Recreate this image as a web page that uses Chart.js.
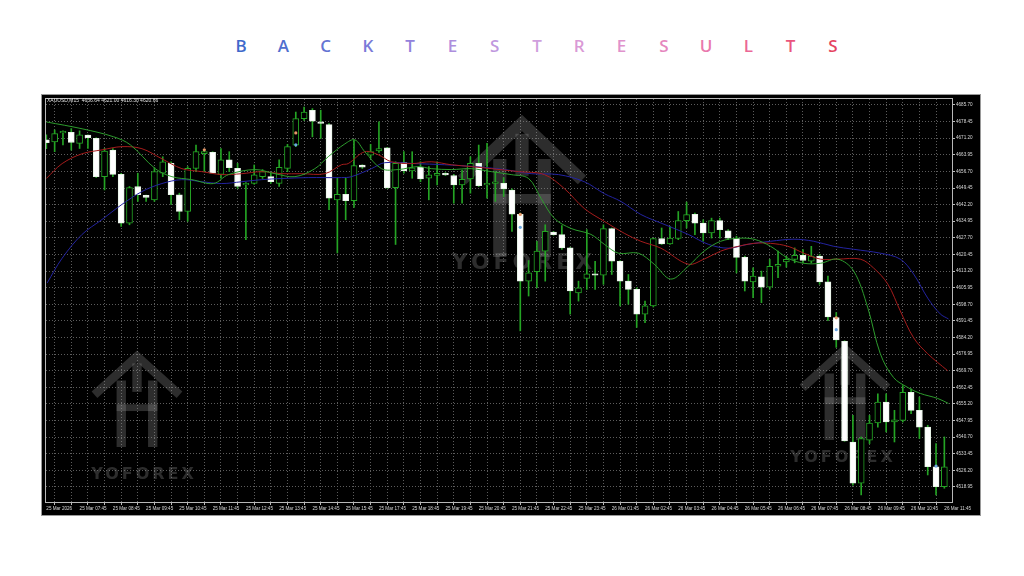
<!DOCTYPE html>
<html>
<head>
<meta charset="utf-8">
<script src="https://cdn.jsdelivr.net/npm/chart.js@4.4.1/dist/chart.umd.min.js"></script>
<style>
  html, body { margin:0; padding:0; background:#fff; width:1024px; height:576px; overflow:hidden; }
  #title { position:absolute; left:234px; top:36px; width:606px; height:20px; line-height:20px;
           display:flex; justify-content:space-between; font-family:"Open Sans", sans-serif; font-size:17px; font-weight:600; }
  #title span { width:14px; text-align:center; }
  #frame { position:absolute; left:42px; top:95px; width:938px; height:420px; background:#000; outline:1px solid #9a9a9a; }
  #hdr { position:absolute; left:47px; top:97px; color:#e0e0e0; font:5px "Liberation Sans Narrow", "Liberation Sans", sans-serif; white-space:pre; }
</style>
</head>
<body>
<div id="title"></div>
<div id="frame"><canvas id="chart"></canvas></div>
<div id="hdr">XAUUSD,M15  4636.64 4621.00 4616.30 4620.66</div>
<script>
// 15 minute bars, index 0 = 25 Mar 06:45
var opens = [4670.5,4669.6,4673.5,4673.7,4668.9,4672.5,4671.1,4654.4,4666.0,4655.4,
  4634.1,4650.1,4646.2,4644.3,4655.9,4660.2,4646.5,4639.2,4658.0,4664.4,
  4665.0,4655.4,4661.7,4658.0,4650.8,4651.5,4654.4,4654.4,4651.5,4658.0,
  4668.2,4679.7,4683.4,4678.3,4677.1,4644.3,4646.7,4643.9,4659.5,4663.8,
  4665.6,4667.0,4649.6,4660.5,4656.9,4658.5,4653.7,4654.9,4655.9,4654.9,
  4650.8,4653.4,4660.2,4650.8,4651.5,4651.5,4648.6,4638.0,4608.8,4612.9,
  4621.9,4630.2,4629.1,4623.3,4603.7,4610.0,4612.0,4611.4,4631.7,4617.5,
  4608.8,4605.2,4594.4,4598.0,4627.4,4625.0,4627.4,4635.2,4638.0,4634.1,
  4629.8,4635.2,4630.8,4627.6,4619.2,4608.5,4610.7,4606.2,4615.3,4617.2,
  4618.3,4620.1,4617.5,4619.7,4608.5,4592.9,4582.5,4538.6,4520.6,4539.4,
  4546.9,4556.0,4547.3,4548.0,4560.3,4552.4,4545.1,4527.8,4519.1];
var highs = [4672.7,4674.8,4674.4,4675.4,4674.4,4672.7,4671.4,4666.7,4666.7,4655.9,
  4650.1,4655.9,4646.4,4658.3,4663.1,4660.9,4647.2,4658.8,4668.2,4666.1,
  4665.3,4666.7,4665.3,4660.2,4651.8,4659.5,4657.5,4655.9,4661.7,4668.5,
  4682.6,4684.8,4684.1,4683.4,4677.6,4653.7,4653.7,4670.4,4659.6,4668.5,
  4678.3,4667.2,4660.9,4665.3,4665.3,4660.9,4658.8,4660.9,4656.2,4655.4,
  4657.3,4663.1,4668.2,4668.9,4656.6,4654.0,4649.1,4638.5,4617.8,4626.2,
  4633.4,4630.5,4633.1,4623.6,4608.8,4631.3,4617.5,4633.4,4632.0,4617.8,
  4611.7,4605.9,4600.1,4627.6,4632.0,4632.7,4639.2,4643.3,4638.5,4635.6,
  4636.3,4636.3,4631.3,4628.4,4619.7,4614.6,4613.2,4618.3,4621.9,4619.7,
  4623.3,4622.6,4624.0,4620.4,4611.0,4595.1,4582.8,4550.2,4540.8,4550.2,
  4559.6,4559.6,4552.4,4563.2,4561.8,4558.2,4545.9,4537.9,4540.8];
var lows = [4666.6,4665.3,4668.3,4666.0,4666.7,4666.7,4654.0,4648.6,4654.4,4632.7,
  4633.4,4643.6,4643.6,4643.6,4654.4,4642.3,4635.6,4634.9,4656.6,4656.6,
  4655.7,4653.7,4656.6,4649.3,4626.9,4651.1,4653.6,4651.5,4650.1,4656.6,
  4667.5,4679.0,4671.8,4671.1,4640.0,4621.1,4635.6,4641.0,4658.0,4662.4,
  4665.0,4649.3,4624.8,4655.9,4653.7,4652.2,4644.3,4650.8,4654.9,4642.8,
  4642.8,4647.2,4650.1,4645.0,4643.6,4645.7,4630.5,4587.1,4602.3,4605.9,
  4608.8,4628.8,4622.6,4594.4,4600.1,4605.2,4605.2,4607.4,4611.7,4598.0,
  4598.7,4588.6,4590.7,4597.5,4624.8,4624.8,4626.9,4632.0,4629.1,4626.2,
  4627.6,4627.6,4626.9,4612.4,4604.5,4601.6,4599.4,4605.2,4610.3,4614.9,
  4616.8,4616.8,4616.8,4607.4,4591.5,4579.9,4538.9,4519.8,4515.5,4537.9,
  4545.1,4543.0,4538.6,4547.3,4551.0,4540.1,4524.2,4515.5,4518.4];
var closes = [4669.2,4673.2,4674.2,4669.3,4672.7,4671.4,4654.4,4665.6,4655.4,4634.1,
  4649.6,4646.5,4645.3,4656.6,4660.9,4646.5,4639.2,4658.0,4665.3,4665.3,
  4655.9,4661.7,4658.3,4650.1,4651.5,4655.2,4656.6,4652.2,4658.5,4667.5,
  4679.7,4682.6,4678.6,4677.6,4645.0,4646.7,4643.9,4659.2,4658.5,4665.3,
  4666.7,4649.6,4660.2,4656.9,4658.3,4653.4,4655.2,4655.9,4655.2,4650.8,
  4653.2,4660.2,4650.5,4651.5,4652.2,4649.1,4638.0,4608.8,4612.4,4621.9,
  4630.5,4629.1,4623.3,4604.5,4605.9,4612.0,4611.4,4631.7,4617.5,4608.8,
  4605.2,4594.4,4598.0,4627.4,4625.0,4627.6,4635.2,4637.8,4634.1,4629.8,
  4635.2,4631.3,4627.6,4619.2,4608.8,4611.0,4606.2,4615.3,4616.1,4618.3,
  4620.1,4617.8,4619.7,4608.5,4593.2,4583.1,4539.1,4520.6,4540.1,4546.9,
  4556.0,4547.3,4548.3,4560.3,4552.4,4545.1,4527.8,4519.1,4527.8];

// moving averages (bar index, price)
var fastMaBar = [0,4.3,8.1,10.1,13.1,15.1,17.5,20.1,21.9,25.1,27.5,29.9,32.3,33.9,35.9,37.1,38.3,40.3,42.3,44.7,
  46.3,48.7,51.1,53.5,55.9,58,59.5,61.1,63.1,65.5,67.1,68.8,71.2,73.1,75.1,77.2,79.1,81.1,83.2,85.1,
  87.1,89.2,91.1,93.1,95.2,97.1,98.8,100.3,101.9,103.6,105.1,107.2,108.5];
var fastMa = [4678.3,4675.3,4671.8,4668.3,4657.9,4654.4,4653.1,4651.4,4655.3,4657.5,4655.7,4654.4,4657.9,4663.1,4668.7,4670.5,4665.3,4657.9,4657.5,4658.8,
  4657.9,4657.5,4657.9,4656.6,4655.3,4653.6,4644.9,4636.2,4631.8,4629.2,4624.9,4621.0,4621.0,4616.2,4609.7,4615.3,4621.9,4626.2,4627.5,4627.1,
  4624.0,4618.8,4616.6,4616.6,4618.4,4613.2,4597.1,4577.1,4566.7,4562.4,4559.8,4557.6,4555.4];
var midMaBar = [0,1.9,4.3,6.7,9.1,11.5,13.9,16.3,18.7,21.1,23.5,25.9,28.3,30.7,33.5,35.5,36.3,38.3,39.9,41.5,
  43.9,46.3,48.7,51.1,53.5,56.8,59.9,62.3,64.7,67.1,69.5,71.5,73.9,77.2,79.1,81.1,83.2,85.1,87.1,89.2,
  91.1,93.1,95.2,97.9,99.5,101.2,102.7,104.3,106,108.4];
var midMa = [4653.6,4660.1,4664.4,4666.1,4667.5,4666.6,4662.2,4657.9,4656.6,4655.3,4655.7,4656.6,4655.7,4655.7,4655.7,4659.6,4660.1,4665.3,4664.0,4660.9,
  4660.1,4660.9,4659.6,4658.8,4657.9,4656.6,4655.3,4649.2,4640.5,4634.9,4629.7,4626.2,4623.2,4616.2,4618.4,4621.9,4624.0,4625.3,4625.3,4624.0,
  4621.0,4618.4,4618.4,4618.4,4614.5,4607.5,4595.8,4584.1,4577.1,4569.7];
var slowMaBar = [0.1,1.9,4.3,6.7,9.1,11.5,13.9,16.3,18.7,21.1,23.5,25.9,28.3,31.5,35.5,36.7,39.1,40.7,44.3,47.9,
  51.5,55.1,58.3,61.6,64.7,67.1,69.1,71.5,74.3,77.2,79.6,82,84.4,87.1,89.9,92.3,94.7,97.1,100.3,102.7,
  104.3,106,107.5,108.5];
var slowMa = [4608.0,4618.8,4629.2,4635.7,4642.3,4647.9,4651.4,4653.1,4652.2,4651.4,4652.2,4653.1,4653.6,4654.0,4654.0,4654.4,4657.9,4660.5,4660.1,4659.6,
  4658.8,4657.5,4655.7,4655.3,4652.2,4647.0,4643.6,4637.9,4633.6,4629.2,4624.9,4623.2,4624.9,4626.2,4627.1,4626.2,4624.0,4622.7,4621.0,4618.4,
  4611.9,4601.4,4594.5,4592.3];

// trade arrows
var entryBar = [19, 30, 57, 95];
var entryPrice = [4666.1, 4673.5, 4637.9, 4592.8];
var exitBar = [30, 57, 95, 107];
var exitPrice = [4668.3, 4632.3, 4587.6, 4528.1];

var timeLabels = ["25 Mar 2026","25 Mar 07:45","25 Mar 08:45","25 Mar 09:45","25 Mar 10:45","25 Mar 11:45",
  "25 Mar 12:45","25 Mar 13:45","25 Mar 14:45","25 Mar 15:45","25 Mar 17:45","25 Mar 18:45","25 Mar 19:45",
  "25 Mar 20:45","25 Mar 21:45","25 Mar 22:45","25 Mar 23:45","26 Mar 01:45","26 Mar 02:45","26 Mar 03:45",
  "26 Mar 04:45","26 Mar 05:45","26 Mar 06:45","26 Mar 07:45","26 Mar 08:45","26 Mar 09:45","26 Mar 10:45","26 Mar 11:45"];
var priceTicks = [4685.70,4678.45,4671.20,4663.95,4656.70,4649.45,4642.20,4634.95,4627.70,4620.45,4613.20,4605.95,
  4598.70,4591.45,4584.20,4576.95,4569.70,4562.45,4555.20,4547.95,4540.70,4533.45,4526.20,4518.95];

var titleText = "BACKTESTRESULTS";
var titleColors = ['#3f6acb','#506fcf','#6474d3','#7a7ad8','#9282dc','#ad8edd','#c098de','#cf9fdd',
  '#da9ad6','#e092cc','#e587be','#e979ad','#eb6896','#ea557d','#e5445f'];

var t = document.getElementById('title');
for (var k = 0; k < titleText.length; k++) {
    var s = document.createElement('span');
    s.textContent = titleText[k];
    s.style.color = titleColors[k];
    t.appendChild(s);
}

var GREEN = '#24a424';
var tickFont = { family: '"Liberation Sans Narrow", "Liberation Sans", sans-serif', size: 4.6 };

function isBull(i) { return closes[i] >= opens[i]; }

var wicks = [], bodies = [];
for (var i = 0; i < opens.length; i++) {
    wicks.push({ x: i, y: [lows[i], highs[i]] });
    bodies.push({ x: i, y: [opens[i], closes[i]] });
}
function pts(xs, ys) { return xs.map(function (x, j) { return { x: x, y: ys[j] }; }); }

function drawLogo(ctx, cx, top, w, h) {
    ctx.lineWidth = w * 0.1;
    ctx.lineJoin = 'miter';
    ctx.beginPath();
    ctx.moveTo(cx - w / 2, top + h * 0.45);
    ctx.lineTo(cx, top + w * 0.05);
    ctx.lineTo(cx + w / 2, top + h * 0.45);
    ctx.stroke();
    var bw = w * 0.11;
    ctx.fillRect(cx - w * 0.24, top + h * 0.3, bw, h * 0.7);
    ctx.fillRect(cx + w * 0.24 - bw, top + h * 0.3, bw, h * 0.7);
    ctx.fillRect(cx - w * 0.24, top + h * 0.55, w * 0.48, w * 0.08);
    ctx.fillRect(cx - bw / 2, top + h * 0.12, bw, h * 0.3);
}

var watermark = {
    id: 'watermark',
    beforeDatasetsDraw: function (chart) {
        var ctx = chart.ctx;
        ctx.save();
        ctx.strokeStyle = 'rgba(150,150,150,0.3)';
        ctx.fillStyle = 'rgba(150,150,150,0.3)';
        drawLogo(ctx, 480, 22, 120, 140);
        drawLogo(ctx, 95, 257, 85, 95);
        drawLogo(ctx, 803, 250, 85, 95);
        ctx.textAlign = 'center';
        ctx.textBaseline = 'middle';
        ctx.letterSpacing = '4px';
        ctx.font = 'bold 22px "DejaVu Sans", sans-serif';
        ctx.fillText('YOFOREX', 482, 168);
        ctx.letterSpacing = '3px';
        ctx.font = 'bold 16px "DejaVu Sans", sans-serif';
        ctx.fillText('YOFOREX', 102, 380);
        ctx.fillText('YOFOREX', 801, 363);
        ctx.restore();
    }
};

var plotFrame = {
    id: 'plotFrame',
    afterDraw: function (chart) {
        var a = chart.chartArea, ctx = chart.ctx;
        ctx.save();
        ctx.strokeStyle = '#b8b8b8';
        ctx.lineWidth = 1;
        ctx.strokeRect(Math.round(a.left) - 0.5, Math.round(a.top) - 0.5, Math.round(a.right - a.left) + 1, Math.round(a.bottom - a.top) + 1);
        ctx.restore();
    }
};

new Chart(document.getElementById('chart').getContext('2d'), {
    type: 'bar',
    data: {
        datasets: [{
            label: 'wick',
            data: wicks,
            backgroundColor: GREEN,
            borderWidth: 0,
            barThickness: 1,
            grouped: false,
            order: 5
        }, {
            label: 'body',
            data: bodies,
            backgroundColor: function (c) { return isBull(c.dataIndex) ? '#000000' : '#ffffff'; },
            borderColor: function (c) { return isBull(c.dataIndex) ? GREEN : '#e6f4e6'; },
            borderWidth: 1,
            borderSkipped: false,
            barThickness: 6,
            minBarLength: 1,
            grouped: false,
            order: 4
        }, {
            type: 'line',
            label: 'MA slow',
            data: pts(slowMaBar, slowMa),
            borderColor: '#2323a0',
            borderWidth: 1,
            pointRadius: 0,
            tension: 0.35,
            order: 3
        }, {
            type: 'line',
            label: 'MA mid',
            data: pts(midMaBar, midMa),
            borderColor: '#a51c1c',
            borderWidth: 1,
            pointRadius: 0,
            tension: 0.35,
            order: 2
        }, {
            type: 'line',
            label: 'MA fast',
            data: pts(fastMaBar, fastMa),
            borderColor: '#2d9c2d',
            borderWidth: 1,
            pointRadius: 0,
            tension: 0.35,
            order: 1
        }, {
            type: 'scatter',
            label: 'entry',
            data: pts(entryBar, entryPrice),
            backgroundColor: '#e89a6a',
            borderWidth: 0,
            pointRadius: 1.6,
            order: 0
        }, {
            type: 'scatter',
            label: 'exit',
            data: pts(exitBar, exitPrice),
            backgroundColor: '#6aa6e0',
            borderWidth: 0,
            pointRadius: 1.6,
            order: 0
        }]
    },
    options: {
        responsive: true,
        maintainAspectRatio: false,
        animation: false,
        layout: { padding: { left: 2, top: 2, right: 0, bottom: 0 } },
        plugins: { legend: { display: false }, tooltip: { enabled: false } },
        scales: {
            x: {
                type: 'linear',
                min: -0.04,
                max: 108.92,
                offset: false,
                afterFit: function (s) { s.height = 13; },
                afterBuildTicks: function (s) {
                    var tk = [];
                    for (var j = 0; j <= 108; j += 2) tk.push({ value: j });
                    s.ticks = tk;
                },
                ticks: {
                    color: '#d8d8d8',
                    font: tickFont,
                    align: 'start',
                    maxRotation: 0,
                    autoSkip: false,
                    padding: 1,
                    callback: function (v) { return v % 4 === 0 ? timeLabels[v / 4] : ''; }
                },
                grid: { color: '#5c5c5c', tickLength: 3, tickColor: '#bbbbbb' },
                border: { display: true, color: '#b8b8b8', dash: [1, 2] }
            },
            y: {
                position: 'right',
                min: 4512.4,
                max: 4688.3,
                afterFit: function (s) { s.width = 28; },
                afterBuildTicks: function (s) {
                    s.ticks = priceTicks.map(function (v) { return { value: v }; });
                },
                ticks: {
                    color: '#d8d8d8',
                    font: tickFont,
                    padding: 1,
                    callback: function (v) { return Number(v).toFixed(2); }
                },
                grid: { color: '#5c5c5c', tickLength: 3, tickColor: '#bbbbbb' },
                border: { display: true, color: '#b8b8b8', dash: [1, 2] }
            }
        }
    },
    plugins: [watermark, plotFrame]
});
</script>
</body>
</html>
